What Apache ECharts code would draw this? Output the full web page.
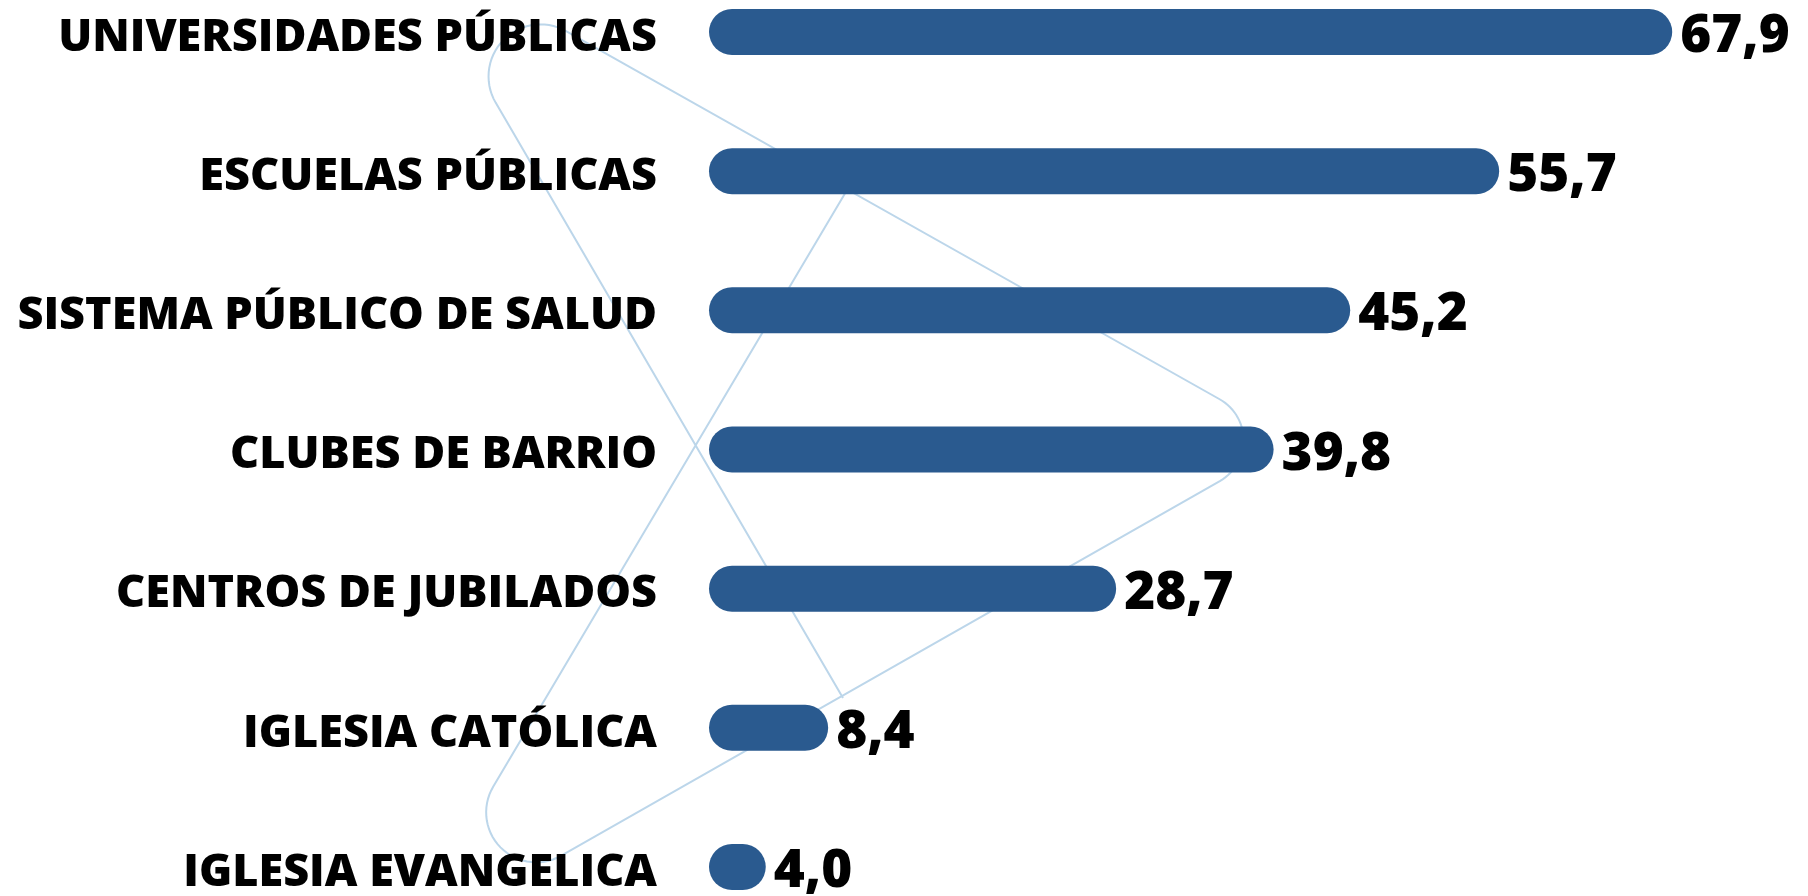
<!DOCTYPE html>
<html>
<head>
<meta charset="utf-8">
<script src="https://cdn.jsdelivr.net/npm/echarts@6/dist/echarts.min.js"></script>
<style>
  html, body { margin: 0; padding: 0; background: #fff; }
  #main { width: 1808px; height: 896px; }
</style>
</head>
<body>
<div id="main"></div>
<script>
const categories = [
    'UNIVERSIDADES PÚBLICAS',
    'ESCUELAS PÚBLICAS',
    'SISTEMA PÚBLICO DE SALUD',
    'CLUBES DE BARRIO',
    'CENTROS DE JUBILADOS',
    'IGLESIA CATÓLICA',
    'IGLESIA EVANGELICA'
];
const values = [67.9, 55.7, 45.2, 39.8, 28.7, 8.4, 4.0];

// fondo decorativo: esquinas del trazo celeste [x, y, radio]
const decoCorners = [[843, 698, 0], [399, -63, 52], [1292, 440, 47], [397, 949, 50], [850, 185, 0]];

// convierte las esquinas en una polilinea con curvas redondeadas
function roundedPath(pts) {
    const out = [[pts[0][0], pts[0][1]]];
    for (let i = 1; i < pts.length - 1; i++) {
        const [px, py] = pts[i - 1];
        const [cx, cy, r] = pts[i];
        const [nx, ny] = pts[i + 1];
        let ax = cx - px, ay = cy - py;
        const la = Math.hypot(ax, ay); ax /= la; ay /= la;
        let bx = nx - cx, by = ny - cy;
        const lb = Math.hypot(bx, by); bx /= lb; by /= lb;
        const turn = Math.acos(Math.max(-1, Math.min(1, ax * bx + ay * by)));
        const d = r * Math.tan(turn / 2);
        const tx = cx - ax * d, ty = cy - ay * d;
        const s = (ax * by - ay * bx) > 0 ? 1 : -1;
        const ox = tx - ay * s * r, oy = ty + ax * s * r;
        const a0 = Math.atan2(ty - oy, tx - ox);
        const steps = 30;
        for (let k = 0; k <= steps; k++) {
            const a = a0 + s * turn * k / steps;
            out.push([ox + r * Math.cos(a), oy + r * Math.sin(a)]);
        }
    }
    const last = pts[pts.length - 1];
    out.push([last[0], last[1]]);
    return out;
}

const fontFamily = '"Open Sans", Lato, sans-serif';

const chart = echarts.init(document.getElementById('main'));
chart.setOption({
    animation: false,
    backgroundColor: '#fff',
    graphic: [{
        type: 'polyline',
        z: 0,
        silent: true,
        shape: { points: roundedPath(decoCorners) },
        style: { stroke: '#bcd6ea', lineWidth: 2, fill: null }
    }],
    grid: { left: 709, top: 32, width: 993, height: 835, containLabel: false },
    xAxis: {
        type: 'value',
        min: 0,
        max: 70,
        show: false,
        splitLine: { show: false }
    },
    yAxis: {
        type: 'category',
        data: categories,
        inverse: true,
        boundaryGap: false,
        axisLine: { show: false },
        axisTick: { show: false },
        splitLine: { show: false },
        axisLabel: {
            margin: 52,
            color: '#000',
            fontFamily: fontFamily,
            fontWeight: 800,
            fontSize: 45,
            formatter: v => '{t|' + v + '}',
            rich: {
                t: {
                    color: '#000',
                    fontFamily: fontFamily,
                    fontWeight: 800,
                    fontSize: 45,
                    padding: [12, 0, 0, 0]
                }
            }
        }
    },
    series: [{
        type: 'bar',
        data: values,
        barWidth: 46,
        z: 2,
        itemStyle: { color: '#2a5a8f', borderRadius: 23 },
        label: {
            show: true,
            position: 'right',
            distance: 8,
            color: '#000',
            fontFamily: fontFamily,
            fontWeight: 800,
            fontSize: 53,
            formatter: p => '{v|' + p.value.toFixed(1).replace('.', ',') + '}',
            rich: {
                v: {
                    color: '#000',
                    fontFamily: fontFamily,
                    fontWeight: 800,
                    fontSize: 53,
                    padding: [10, 0, 0, 0]
                }
            }
        }
    }]
});
</script>
</body>
</html>
